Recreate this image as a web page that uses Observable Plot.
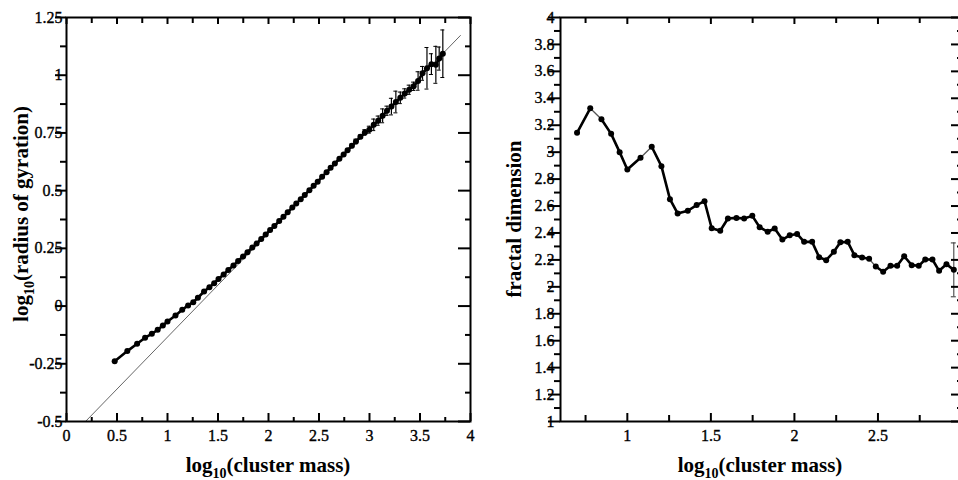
<!DOCTYPE html>
<html><head><meta charset="utf-8">
<script src="https://cdn.jsdelivr.net/npm/d3@7"></script>
<script src="https://cdn.jsdelivr.net/npm/@observablehq/plot@0.6"></script>
<style>
html,body{margin:0;padding:0;background:#fff;overflow:hidden;}
#wrap{position:relative;width:958px;height:480px;overflow:hidden;background:#fff;}
#left{position:absolute;left:0;top:0;width:478px;height:480px;}
#right{position:absolute;left:478px;top:0;width:493px;height:480px;}
#wrap svg g[aria-label$="tick label"]{font-size:16px;font-family:'Liberation Serif','Times New Roman',Times,serif;}
#wrap svg g[aria-label$="tick label"] text{stroke:#000;stroke-width:0.35px;}
</style></head>
<body><div id="wrap"><div id="left"></div><div id="right"></div></div>
<script>
// ---------- data: left panel (radius of gyration vs cluster mass) ----------
const massLog = [0.477,0.602,0.699,0.778,0.845,0.903,0.954,1.0,1.079,1.146,1.204,1.255,1.301,1.362,1.415,1.462,1.505,1.556,1.602,1.653,1.699,1.748,1.792,1.840,1.882,1.928,1.972,2.016,2.058,2.106,2.148,2.190,2.236,2.275,2.319,2.359,2.405,2.447,2.487,2.531,2.575,2.615,2.657,2.702,2.744,2.783,2.826,2.866,2.910,2.954,2.998,3.042,3.086,3.130,3.173,3.217,3.261,3.305,3.349,3.393,3.437,3.481,3.525,3.569,3.613,3.657,3.690,3.726];
const radiusLog = [-0.239,-0.195,-0.163,-0.137,-0.120,-0.103,-0.084,-0.067,-0.041,-0.016,0.003,0.017,0.036,0.063,0.082,0.099,0.117,0.137,0.156,0.176,0.195,0.215,0.233,0.254,0.271,0.291,0.310,0.329,0.347,0.368,0.387,0.406,0.427,0.444,0.463,0.481,0.502,0.521,0.539,0.560,0.580,0.599,0.618,0.638,0.657,0.675,0.694,0.713,0.733,0.752,0.764,0.785,0.803,0.824,0.846,0.864,0.884,0.902,0.921,0.937,0.952,0.975,1.008,1.030,1.048,1.045,1.072,1.093];
const radiusErr = [0,0,0,0,0,0,0,0,0,0,0,0,0,0,0,0,0,0,0,0,0,0,0,0,0,0,0,0,0,0,0,0,0,0,0,0,0,0,0,0,0,0,0,0,0,0,0.008,0.01,0.008,0.012,0.015,0.025,0.02,0.03,0.02,0.036,0.047,0.025,0.02,0.02,0.018,0.04,0.03,0.09,0.045,0.08,0.05,0.103];
const fitX = [0.188, 3.90];
const fitY = [-0.5, 1.172];

// ---------- data: right panel (fractal dimension) ----------
const dimLog = [0.699,0.778,0.845,0.903,0.954,1.0,1.079,1.146,1.204,1.255,1.301,1.362,1.415,1.462,1.505,1.556,1.602,1.653,1.699,1.748,1.792,1.840,1.882,1.928,1.972,2.016,2.058,2.106,2.148,2.190,2.236,2.275,2.319,2.359,2.405,2.447,2.487,2.531,2.575,2.615,2.657,2.702,2.744,2.783,2.826,2.866,2.910,2.954];
const dimValue = [3.144,3.326,3.245,3.136,3.0,2.871,2.958,3.04,2.896,2.651,2.545,2.565,2.607,2.636,2.435,2.416,2.507,2.512,2.507,2.527,2.443,2.409,2.433,2.351,2.383,2.393,2.334,2.334,2.220,2.198,2.260,2.331,2.334,2.235,2.218,2.208,2.151,2.112,2.156,2.156,2.227,2.161,2.156,2.203,2.203,2.119,2.168,2.126];
const dimThinAfter = [1, 6, 35];       // segments drawn only as thin grey line
const dimErrIndex = [47];
const dimErr = [0.2];

// ---------- ticks ----------
const leftXTicks = [0,0.5,1,1.5,2,2.5,3,3.5,4];
const leftXMinor = [0.25,0.75,1.25,1.75,2.25,2.75,3.25,3.75];
const leftYTicks = [-0.5,-0.25,0,0.25,0.5,0.75,1,1.25];
const leftYMinor = [-0.375,-0.125,0.125,0.375,0.625,0.875,1.125];
const rightXTicks = [1,1.5,2,2.5];
const rightXMajor = [1,1.5,2,2.5,3];
const rightXMinor = [0.75,1.25,1.75,2.25,2.75];
const rightYTicks = [1,1.2,1.4,1.6,1.8,2,2.2,2.4,2.6,2.8,3,3.2,3.4,3.6,3.8,4];
const rightYMinor = [1.1,1.3,1.5,1.7,1.9,2.1,2.3,2.5,2.7,2.9,3.1,3.3,3.5,3.7,3.9];

const FONT = "'Liberation Serif','Times New Roman',Times,serif";

function frameTicks(xd, yd, xMaj, xMin, yMaj, yMin, L) {
  const s = {stroke: "#000", strokeWidth: 2};
  const X0 = () => xd[0], X1 = () => xd[1], Y0 = () => yd[0], Y1 = () => yd[1];
  return [
    Plot.ruleX(xMaj, {x: d => d, y1: Y0, y2: Y0, insetBottom: L.xMajB, ...s}),
    Plot.ruleX(xMin, {x: d => d, y1: Y0, y2: Y0, insetBottom: L.xMinB, ...s}),
    Plot.ruleX(xMaj, {x: d => d, y1: Y1, y2: Y1, insetTop: L.xMajT, ...s}),
    Plot.ruleX(xMin, {x: d => d, y1: Y1, y2: Y1, insetTop: L.xMinT, ...s}),
    Plot.ruleY(yMaj, {y: d => d, x1: X0, x2: X0, insetLeft: L.yMajL, ...s}),
    Plot.ruleY(yMin, {y: d => d, x1: X0, x2: X0, insetLeft: L.yMinL, ...s}),
    Plot.ruleY(yMaj, {y: d => d, x1: X1, x2: X1, insetRight: L.yMajR, ...s}),
    Plot.ruleY(yMin, {y: d => d, x1: X1, x2: X1, insetRight: L.yMinR, ...s})
  ];
}

function addLabel(svg, x, y, rotate, parts) {
  const t = d3.select(svg).append("text")
    .attr("transform", `translate(${x},${y})` + (rotate ? " rotate(-90)" : ""))
    .attr("text-anchor", "middle")
    .attr("font-family", FONT)
    .attr("font-weight", "bold")
    .attr("font-size", 21)
    .attr("fill", "#000");
  t.append("tspan").text(parts[0]);
  t.append("tspan").attr("font-size", 14).attr("dy", 6).text(parts[1]);
  t.append("tspan").attr("dy", -6).text(parts[2]);
}

const fmt = d => String(d);

// ---------- left panel ----------
const leftRows = massLog.map((m, i) => ({m, r: radiusLog[i], e: radiusErr[i]}));
const leftErr = leftRows.filter(d => d.e > 0);
const fitRows = fitX.map((m, i) => ({m, r: fitY[i]}));
const LX = [0, 4], LY = [-0.5, 1.25];

const left = Plot.plot({
  width: 478, height: 480,
  marginLeft: 66, marginRight: 8, marginTop: 17, marginBottom: 59,
  x: {domain: LX}, y: {domain: LY},
  style: {fontFamily: FONT, fontSize: "16px", color: "#000", background: "#fff", maxWidth: "none", overflow: "visible"},
  marks: [
    Plot.line(fitRows, {x: "m", y: "r", stroke: "#666", strokeWidth: 1}),
    Plot.ruleX(leftErr, {x: "m", y1: d => d.r - d.e, y2: d => d.r + d.e, stroke: "#000", strokeWidth: 1.2}),
    Plot.ruleY(leftErr, {y: d => d.r + d.e, x1: "m", x2: "m", insetLeft: -2, insetRight: -2, stroke: "#000", strokeWidth: 1}),
    Plot.ruleY(leftErr, {y: d => d.r - d.e, x1: "m", x2: "m", insetLeft: -2, insetRight: -2, stroke: "#000", strokeWidth: 1}),
    Plot.line(leftRows, {x: "m", y: "r", stroke: "#000", strokeWidth: 2.6}),
    Plot.dot(leftRows, {x: "m", y: "r", r: 3, fill: "#000", stroke: null}),
    ...frameTicks(LX, LY, leftXTicks, leftXMinor, leftYTicks, leftYMinor,
      {xMajB: 8, xMinB: 4, xMajT: 7, xMinT: 6, yMajL: -11, yMinL: -6, yMajR: 12, yMinR: 5}),
    Plot.frame({stroke: "#000", strokeWidth: 2}),
    Plot.axisX({ticks: leftXTicks, tickSize: 0, tickPadding: 8, tickFormat: fmt, label: null, fontSize: 16}),
    Plot.axisY({ticks: leftYTicks, tickSize: 0, tickPadding: 4, tickFormat: fmt, label: null, fontSize: 16})
  ]
});
addLabel(left, 268, 472, false, ["log", "10", "(cluster mass)"]);
addLabel(left, 28, 214, true, ["log", "10", "(radius of gyration)"]);
document.getElementById("left").append(left);

// ---------- right panel ----------
const groupOf = i => dimThinAfter.filter(t => t < i).length;
const dimRows = dimLog.map((m, i) => ({m, d: dimValue[i], g: groupOf(i)}));
const dimErrRows = dimErrIndex.map((k, j) => ({m: dimLog[k], d: dimValue[k], e: dimErr[j]}));
const RX = [0.6, 3.0], RY = [1, 4];

const right = Plot.plot({
  width: 493, height: 480,
  marginLeft: 82, marginRight: 10, marginTop: 17, marginBottom: 59,
  x: {domain: RX}, y: {domain: RY},
  style: {fontFamily: FONT, fontSize: "16px", color: "#000", background: "#fff", maxWidth: "none", overflow: "visible"},
  marks: [
    Plot.ruleX(dimErrRows, {x: "m", y1: d => d.d - d.e, y2: d => d.d + d.e, stroke: "#333", strokeWidth: 1}),
    Plot.ruleY(dimErrRows, {y: d => d.d + d.e, x1: "m", x2: "m", insetLeft: -2.5, insetRight: -2.5, stroke: "#333", strokeWidth: 1}),
    Plot.ruleY(dimErrRows, {y: d => d.d - d.e, x1: "m", x2: "m", insetLeft: -2.5, insetRight: -2.5, stroke: "#333", strokeWidth: 1}),
    Plot.line(dimRows, {x: "m", y: "d", stroke: "#555", strokeWidth: 1.3}),
    Plot.line(dimRows, {x: "m", y: "d", z: "g", stroke: "#000", strokeWidth: 2.6}),
    Plot.dot(dimRows, {x: "m", y: "d", r: 3, fill: "#000", stroke: null}),
    ...frameTicks(RX, RY, rightXMajor, rightXMinor, rightYTicks, rightYMinor,
      {xMajB: 8, xMinB: 6, xMajT: 7, xMinT: 6, yMajL: -12, yMinL: -6, yMajR: 10, yMinR: 4}),
    Plot.frame({stroke: "#000", strokeWidth: 2}),
    Plot.axisX({ticks: rightXTicks, tickSize: 0, tickPadding: 8, tickFormat: fmt, label: null, fontSize: 16}),
    Plot.axisY({ticks: rightYTicks, tickSize: 0, tickPadding: 6, tickFormat: fmt, label: null, fontSize: 16})
  ]
});
addLabel(right, 282, 472, false, ["log", "10", "(cluster mass)"]);
addLabel(right, 43, 219, true, ["fractal dimension", "", ""]);
document.getElementById("right").append(right);
</script>
</body></html>
